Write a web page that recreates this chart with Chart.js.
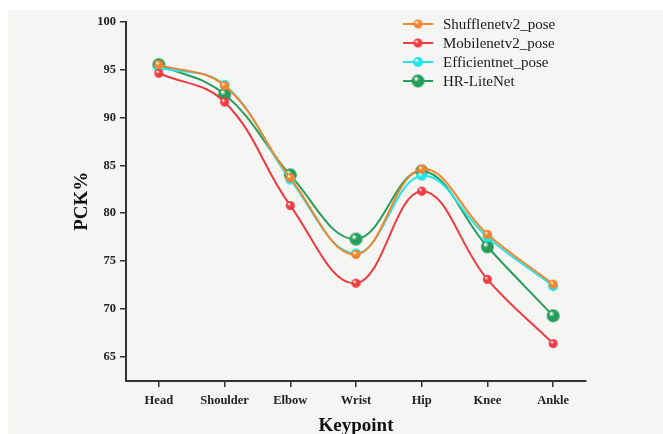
<!DOCTYPE html>
<html>
<head>
<meta charset="utf-8">
<script src="https://cdn.jsdelivr.net/npm/chart.js@4.4.1/dist/chart.umd.min.js"></script>
<style>
  html, body { margin: 0; padding: 0; background: #ffffff; }
  #wrap { position: absolute; left: 8px; top: 10px; width: 655px; height: 424px; background: #f5f5f4; }
</style>
</head>
<body>
<div id="wrap"><canvas id="chart" width="655" height="424"></canvas></div>
<script>
// data
const keypoints = ["Head", "Shoulder", "Elbow", "Wrist", "Hip", "Knee", "Ankle"];
const shufflenetV2 = [95.5, 93.3, 83.7, 75.7, 84.6, 77.8, 72.6];
const mobilenetV2 = [94.6, 91.6, 80.8, 72.7, 82.3, 73.1, 66.4];
const efficientnet = [95.2, 93.4, 83.5, 75.8, 83.9, 77.5, 72.4];
const hrLiteNet = [95.5, 92.4, 84.0, 77.3, 84.4, 76.5, 69.3];
const yTicks = [65, 70, 75, 80, 85, 90, 95, 100];

const serif = "'Liberation Serif', 'Times New Roman', serif";

// shaded ball marker like the original
function ball(color, r) {
    const c = document.createElement("canvas");
    const s = Math.ceil(r * 2 + 2);
    c.width = s; c.height = s;
    const g = c.getContext("2d");
    const m = s / 2;
    const grad = g.createRadialGradient(m - r * 0.35, m - r * 0.4, r * 0.1, m, m, r);
    grad.addColorStop(0, "rgba(255,255,255,0.95)");
    grad.addColorStop(0.35, color);
    grad.addColorStop(1, color);
    g.fillStyle = grad;
    g.beginPath();
    g.arc(m, m, r, 0, Math.PI * 2);
    g.fill();
    return c;
}

const series = [
    { label: "Shufflenetv2_pose", data: shufflenetV2, color: "#f5842c", r: 4.5 },
    { label: "Mobilenetv2_pose", data: mobilenetV2, color: "#ee3a40", r: 4.5 },
    { label: "Efficientnet_pose", data: efficientnet, color: "#25e5ec", r: 5 },
    { label: "HR-LiteNet", data: hrLiteNet, color: "#279d5c", r: 6.5 }
];

// legend: line with a ball in the middle
const lineLegend = {
    id: "lineLegend",
    afterDraw(chart) {
        const ctx = chart.ctx;
        const x0 = 395, y0 = 14, rowH = 19;
        ctx.save();
        chart.data.datasets.forEach((ds, i) => {
            const y = y0 + i * rowH;
            ctx.strokeStyle = ds.borderColor;
            ctx.lineWidth = 2;
            ctx.beginPath();
            ctx.moveTo(x0, y);
            ctx.lineTo(x0 + 30, y);
            ctx.stroke();
            const img = ds.pointStyle;
            ctx.drawImage(img, x0 + 15 - img.width / 2, y - img.height / 2);
            ctx.fillStyle = "#1a1a1a";
            ctx.font = "15px " + serif;
            ctx.textBaseline = "middle";
            ctx.fillText(ds.label, x0 + 40, y + 1);
        });
        ctx.restore();
    }
};

new Chart(document.getElementById("chart"), {
    type: "line",
    data: {
        labels: keypoints,
        datasets: series.map(s => ({
            label: s.label,
            data: s.data,
            borderColor: s.color,
            backgroundColor: s.color,
            borderWidth: 2,
            tension: 0.4,
            pointStyle: ball(s.color, s.r),
            pointRadius: s.r
        }))
    },
    options: {
        responsive: false,
        animation: false,
        layout: { padding: { top: 11, right: 77, left: 0, bottom: 0 } },
        plugins: { legend: { display: false }, tooltip: { enabled: false } },
        scales: {
            x: {
                offset: true,
                grid: { drawOnChartArea: false, drawTicks: true, tickLength: 6, color: "#333", lineWidth: 1.5 },
                border: { display: true, color: "#333", width: 2 },
                ticks: { color: "#222", padding: 6, font: { family: serif, size: 12.5, weight: "bold" } },
                title: { display: true, text: "Keypoint", color: "#111", padding: { top: 0, bottom: -3 },
                         font: { family: serif, size: 19, weight: "bold" } },
                afterFit(scale) { scale.height = 53; }
            },
            y: {
                min: 62.5,
                max: 100,
                afterBuildTicks(scale) { scale.ticks = yTicks.map(v => ({ value: v })); },
                grid: { drawOnChartArea: false, drawTicks: true, tickLength: 6, color: "#333", lineWidth: 1.5 },
                border: { display: true, color: "#333", width: 2 },
                ticks: { color: "#222", padding: 4, font: { family: serif, size: 12.5, weight: "bold" } },
                title: { display: true, text: "PCK%", color: "#111", padding: { top: 63, bottom: 0 },
                         font: { family: serif, size: 19, weight: "bold" } },
                afterFit(scale) { scale.width = 118; }
            }
        }
    },
    plugins: [lineLegend]
});
</script>
</body>
</html>
